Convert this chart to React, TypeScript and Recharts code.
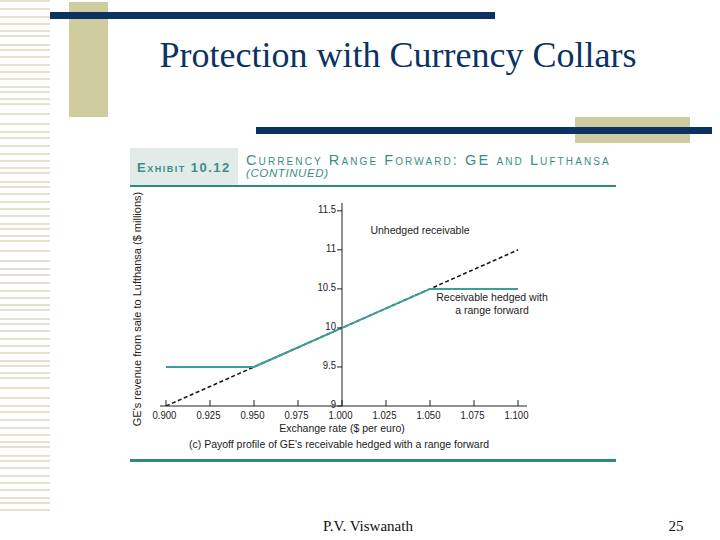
import { LineChart, Line, XAxis, YAxis, ReferenceLine } from 'recharts'

// exchange rate ($ per euro) and revenue ($ millions)
const rates = [0.9, 0.95, 1.0, 1.05, 1.1]
const unhedged = [9, 9.5, 10, 10.5, 11]
const hedged = [9.5, 9.5, 10, 10.5, 10.5]

const xTicks = [0.9, 0.925, 0.95, 0.975, 1.0, 1.025, 1.05, 1.075, 1.1]
const yTicks = [9, 9.5, 10, 10.5, 11, 11.5]
const yTickLabels = ['9', '9.5', '10', '10.5', '11', '11.5']

const data = rates.map((r, i) => ({ rate: r, unhedged: unhedged[i], hedged: hedged[i] }))

const X_DOMAIN: [number, number] = [0.8966, 1.1051]
const Y_DOMAIN: [number, number] = [9, 11.6]
const W = 420
const H = 235
const M = { top: 8, right: 18, left: 34, bottom: 0 }
const Y_W = 1
const plotLeft = M.left + Y_W
const plotW = W - plotLeft - M.right
// the value axis crosses at 1.000
const axisX = plotLeft + ((1 - X_DOMAIN[0]) / (X_DOMAIN[1] - X_DOMAIN[0])) * plotW

const NAVY = '#0b3362'
const KHAKI = '#cfcc9f'
const STRIPE = '#e4e2cd'
const TEAL = '#3a9f95'
const TEAL_DARK = '#2f8a7e'
const HEAD = '#3a8f85'
const INK = '#222'
const SANS = '"Liberation Sans", Arial, sans-serif'
const SERIF = '"Liberation Serif", "Times New Roman", serif'

const stripeGaps = [8, 8, 7, 7, 5, 9, 5, 7, 8, 7, 7, 8, 5, 7, 5, 10, 10, 8, 6]
const stripes: number[] = []
for (let y = 0, i = 0; y < 512; i++) {
  stripes.push(y)
  y += stripeGaps[i % stripeGaps.length]
}

// the figure's numerals are set in a narrow face
function Narrow({ x, y, anchor, children }: any) {
  return (
    <text
      transform={`translate(${x} ${y}) scale(0.87 1)`}
      textAnchor={anchor}
      dominantBaseline="central"
      fontFamily={SANS}
      fontSize={11}
      fill={INK}
    >
      {children}
    </text>
  )
}

function XTick({ x, y, payload }: any) {
  return <Narrow x={x - 1.5} y={y} anchor="middle">{payload.value.toFixed(3)}</Narrow>
}

function YTick({ y, payload }: any) {
  const label = yTickLabels[yTicks.indexOf(payload.value)]
  return (
    <g>
      <line x1={axisX - 5} x2={axisX} y1={y} y2={y} stroke={INK} />
      <Narrow x={axisX - 6} y={y - 1.5} anchor="end">{label}</Narrow>
    </g>
  )
}

export default function App() {
  return (
    <div style={{ position: 'absolute', left: 0, top: 0, width: 720, height: 540, background: '#fff', overflow: 'hidden' }}>
      <svg width={720} height={540} style={{ position: 'absolute', left: 0, top: 0 }}>
        {stripes.map((y) => (
          <rect key={y} x={0} y={y} width={50} height={2} fill={STRIPE} />
        ))}
        <rect x={69} y={2} width={39} height={115} fill={KHAKI} />
        <rect x={50} y={12} width={445} height={7} fill={NAVY} />
        <text x={398} y={67} textAnchor="middle" fontFamily={SERIF} fontSize={36} fill={NAVY}>
          Protection with Currency Collars
        </text>
        <rect x={575} y={117} width={115} height={26} fill={KHAKI} />
        <rect x={256} y={127} width={456} height={7} fill={NAVY} />

        <rect x={130} y={148} width={108} height={37} fill="#e3ebe8" />
        <text x={137} y={171.5} fontFamily={SANS} fontWeight="bold" fontSize={13} letterSpacing={1.5} fill={HEAD} style={{ fontVariant: 'small-caps' }}>
          Exhibit 10.12
        </text>
        <text x={246} y={165} fontFamily={SANS} fontSize={14.5} letterSpacing={2.1} fill={HEAD} style={{ fontVariant: 'small-caps' }}>
          Currency Range Forward: GE and Lufthansa
        </text>
        <text x={246} y={177} fontFamily={SANS} fontSize={11.5} fontStyle="italic" letterSpacing={0.6} fill={HEAD}>
          (CONTINUED)
        </text>
        <rect x={130} y={185} width={486} height={2} fill={TEAL_DARK} />

        <text transform="translate(141 309) rotate(-90)" textAnchor="middle" fontFamily={SANS} fontSize={11} fill={INK}>
          GE's revenue from sale to Lufthansa ($ millions)
        </text>
        <text x={420} y={234} textAnchor="middle" fontFamily={SANS} fontSize={10.5} fill={INK}>
          Unhedged receivable
        </text>
        <text x={492} y={301} textAnchor="middle" fontFamily={SANS} fontSize={10.5} fill={INK}>
          Receivable hedged with
        </text>
        <text x={492} y={314} textAnchor="middle" fontFamily={SANS} fontSize={10.5} fill={INK}>
          a range forward
        </text>
        <text x={342} y={431.5} textAnchor="middle" fontFamily={SANS} fontSize={10.5} fill={INK}>
          Exchange rate ($ per euro)
        </text>
        <text x={339} y={448} textAnchor="middle" fontFamily={SANS} fontSize={10.5} fill={INK}>
          (c) Payoff profile of GE's receivable hedged with a range forward
        </text>
        <rect x={130} y={459} width={486} height={3} fill={TEAL_DARK} />

        <text x={368} y={531} textAnchor="middle" fontFamily={SERIF} fontSize={15} fill="#111">
          P.V. Viswanath
        </text>
        <text x={676} y={531} textAnchor="middle" fontFamily={SERIF} fontSize={15} fill="#111">
          25
        </text>
      </svg>

      <div style={{ position: 'absolute', left: 125, top: 195 }}>
        <LineChart width={W} height={H} data={data} margin={M}>
          <XAxis
            dataKey="rate"
            type="number"
            domain={X_DOMAIN}
            ticks={xTicks}
            interval={0}
            allowDataOverflow
            height={24}
            tickSize={-6}
            tickMargin={15}
            stroke={INK}
            tick={<XTick />}
          />
          <YAxis
            type="number"
            domain={Y_DOMAIN}
            ticks={yTicks}
            interval={0}
            allowDataOverflow
            width={Y_W}
            axisLine={false}
            tickLine={false}
            tick={<YTick />}
          />
          <ReferenceLine segment={[{ x: 1, y: 9 }, { x: 1, y: 11.6 }]} stroke={INK} />
          <Line
            type="linear"
            dataKey="unhedged"
            stroke="#1a1a1a"
            strokeWidth={1.6}
            strokeDasharray="4 2.5"
            dot={false}
            activeDot={false}
            isAnimationActive={false}
          />
          <Line
            type="linear"
            dataKey="hedged"
            stroke={TEAL}
            strokeWidth={2}
            dot={false}
            activeDot={false}
            isAnimationActive={false}
          />
        </LineChart>
      </div>
    </div>
  )
}
